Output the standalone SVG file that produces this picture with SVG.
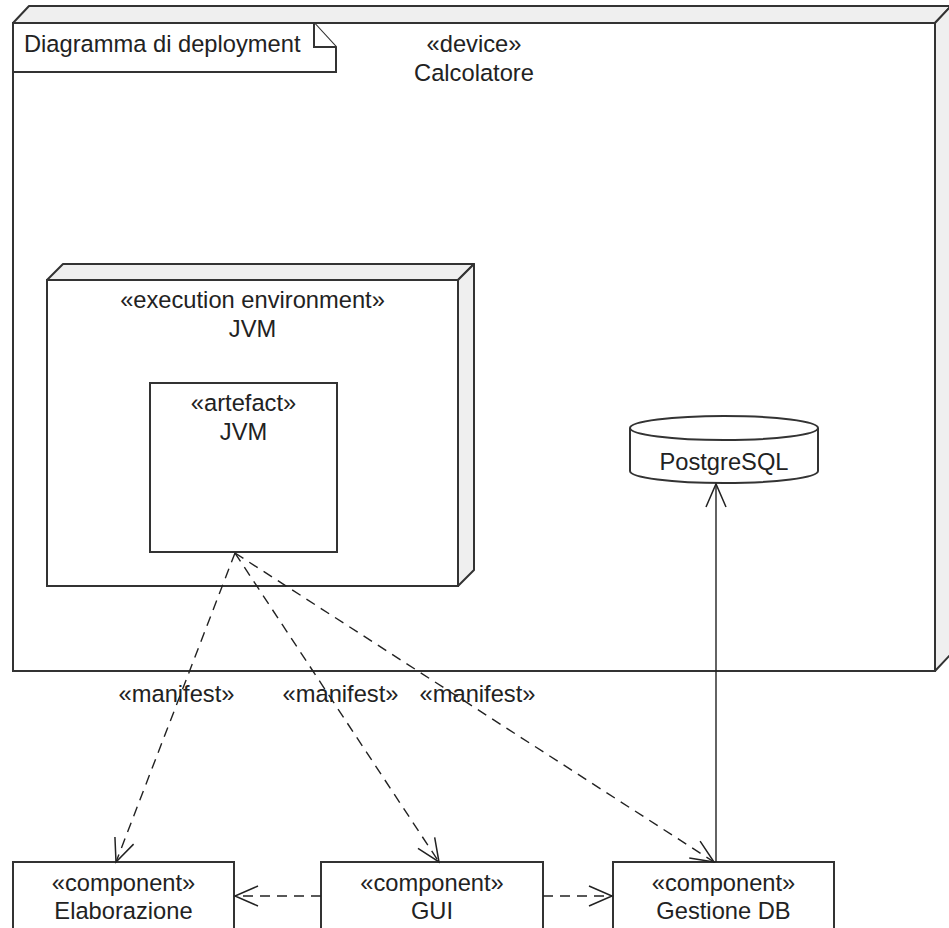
<svg xmlns="http://www.w3.org/2000/svg" width="949" height="928" viewBox="0 0 949 928">
<style>
  .box { fill: #ffffff; stroke: #333333; stroke-width: 2; }
  .face { fill: #efefef; stroke: #333333; stroke-width: 2; stroke-linejoin: round; }
  .t { font-family: "Liberation Sans", Arial, sans-serif; font-size: 23.7px; fill: #222222; text-anchor: middle; }
  .tl { font-family: "Liberation Sans", Arial, sans-serif; font-size: 23.7px; fill: #222222; }
  .dash { fill: none; stroke: #222222; stroke-width: 1.4; stroke-dasharray: 10 7; }
  .solid { fill: none; stroke: #222222; stroke-width: 1.4; }
</style>
<defs>
  <marker id="open" markerUnits="userSpaceOnUse" markerWidth="30" markerHeight="30" viewBox="-26 -13 30 26" refX="0" refY="0" orient="auto">
    <path d="M -23 -10 L 0 0 L -23 10" fill="none" stroke="#222222" stroke-width="1.5" stroke-dasharray="none"/>
  </marker>
</defs>
<rect x="0" y="0" width="949" height="928" fill="#ffffff"/>

<g id="device-calcolatore">
  <polygon class="face" points="13,23 29,6 951,6 935,23"/>
  <polygon class="face" points="935,23 951,6 951,654 935,671"/>
  <rect class="box" x="13" y="23" width="922" height="648"/>
  <text class="t" x="474" y="52">«device»</text>
  <text class="t" x="474" y="81">Calcolatore</text>
</g>

<g id="frame-label">
  <polygon class="box" points="13,23 314,23 336,47 336,72 13,72"/>
  <polyline class="box" points="314,23 314,47 336,47" fill="none"/>
  <text class="tl" x="24" y="52">Diagramma di deployment</text>
</g>

<g id="exec-env-jvm">
  <polygon class="face" points="47,280 63,264 474,264 458,280"/>
  <polygon class="face" points="458,280 474,264 474,570 458,586"/>
  <rect class="box" x="47" y="280" width="411" height="306"/>
  <text class="t" x="252.5" y="308">«execution environment»</text>
  <text class="t" x="252.5" y="337">JVM</text>
</g>

<g id="artefact-jvm">
  <rect class="box" x="150" y="383" width="187" height="169"/>
  <text class="t" x="243.5" y="411">«artefact»</text>
  <text class="t" x="243.5" y="440">JVM</text>
</g>

<g id="postgresql">
  <path class="box" d="M 630 428 L 630 471 A 94 12 0 0 0 818 471 L 818 428"/>
  <ellipse class="box" cx="724" cy="428" rx="94" ry="12"/>
  <text class="t" x="724" y="470">PostgreSQL</text>
</g>

<g id="comp-elaborazione">
  <rect class="box" x="13" y="862" width="221" height="80"/>
  <text class="t" x="123.5" y="891">«component»</text>
  <text class="t" x="123.5" y="919">Elaborazione</text>
</g>

<g id="comp-gui">
  <rect class="box" x="321" y="862" width="222" height="80"/>
  <text class="t" x="432" y="891">«component»</text>
  <text class="t" x="432" y="919">GUI</text>
</g>

<g id="comp-gestione-db">
  <rect class="box" x="613" y="862" width="221" height="80"/>
  <text class="t" x="723.5" y="891">«component»</text>
  <text class="t" x="723.5" y="919">Gestione DB</text>
</g>

<g id="connectors">
  <line class="dash" x1="235" y1="553" x2="116" y2="862" marker-end="url(#open)"/>
  <line class="dash" x1="235" y1="553" x2="439" y2="862" marker-end="url(#open)"/>
  <line class="dash" x1="235" y1="553" x2="714" y2="862" marker-end="url(#open)"/>
  <line class="dash" x1="321" y1="896" x2="235" y2="896" marker-end="url(#open)"/>
  <line class="dash" x1="543" y1="896" x2="612" y2="896" marker-end="url(#open)"/>
  <line class="solid" x1="716" y1="862" x2="716" y2="484" marker-end="url(#open)"/>
  <text class="t" x="176.5" y="702">«manifest»</text>
  <text class="t" x="340.5" y="702">«manifest»</text>
  <text class="t" x="477.5" y="702">«manifest»</text>
</g>
</svg>
